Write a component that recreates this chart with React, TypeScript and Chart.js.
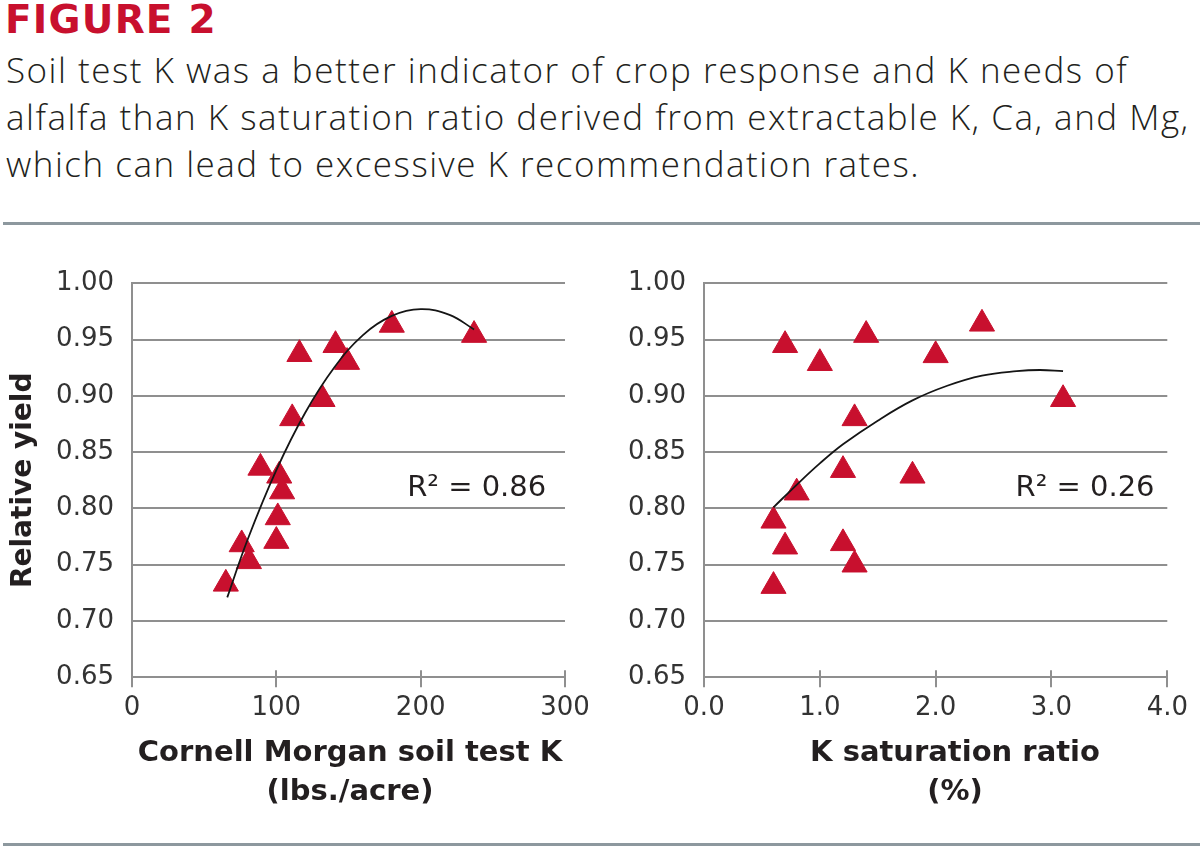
import React, { useEffect, useRef } from "react";
import { Chart, registerables } from "chart.js";

Chart.register(...registerables);

// ---- Data ----
const soilK = [180, 237, 141, 116, 149, 132, 111, 89, 102, 104, 101, 100, 76, 81, 65];
const soilYield = [0.963, 0.954, 0.945, 0.937, 0.930, 0.897, 0.880, 0.836, 0.829, 0.815, 0.792, 0.771, 0.768, 0.753, 0.733];
const soilTrendX = [66, 80, 100, 120, 140, 160, 180, 200, 220, 237];
const soilTrendY = [0.721, 0.772, 0.834, 0.885, 0.925, 0.954, 0.971, 0.977, 0.972, 0.959];

const satRatio = [2.4, 1.4, 0.7, 2.0, 1.0, 3.1, 1.3, 1.2, 1.8, 0.8, 0.6, 0.7, 1.2, 1.3, 0.6];
const satYield = [0.964, 0.954, 0.945, 0.936, 0.929, 0.897, 0.880, 0.834, 0.829, 0.814, 0.789, 0.766, 0.769, 0.750, 0.731];
const satTrendX = [0.6, 0.8, 1.0, 1.2, 1.5, 1.8, 2.1, 2.4, 2.7, 2.9, 3.1];
const satTrendY = [0.801, 0.821, 0.840, 0.857, 0.878, 0.896, 0.909, 0.918, 0.922, 0.923, 0.922];

const yMin = 0.65;
const yMax = 1.0;
const yStep = 0.05;
const soilAxis = { min: 0, max: 300, step: 100, decimals: 0 };
const satAxis = { min: 0, max: 4, step: 1, decimals: 1 };

const soilTitle = ["Cornell Morgan soil test K", "(lbs./acre)"];
const satTitle = ["K saturation ratio", "(%)"];
const yTitle = "Relative yield";
const soilR2 = "R\u00B2 = 0.86";
const satR2 = "R\u00B2 = 0.26";

const RED = "#c8102e";
const GRID = "#8f8f8f";
const TEXT = "#231f20";
const TICK_TEXT = "#333333";

const extrasPlugin = {
  id: "extras",
  afterDraw(chart: any, _args: any, opts: any) {
    const { ctx, chartArea, scales } = chart;
    const xs = scales.x;
    const ys = scales.y;
    ctx.save();
    // tick marks crossing the x axis
    ctx.strokeStyle = GRID;
    ctx.lineWidth = 2;
    xs.ticks.forEach((t: any) => {
      const px = Math.round(xs.getPixelForValue(t.value));
      ctx.beginPath();
      ctx.moveTo(px, chartArea.bottom - 7);
      ctx.lineTo(px, chartArea.bottom + 10);
      ctx.stroke();
    });
    // R² annotation
    ctx.font = "29px 'DejaVu Sans'";
    ctx.fillStyle = TEXT;
    ctx.textAlign = "right";
    ctx.textBaseline = "alphabetic";
    ctx.fillText(opts.text, xs.getPixelForValue(opts.x), ys.getPixelForValue(opts.y));
    // x axis title (two lines, centred on the canvas)
    ctx.font = "bold 29px 'DejaVu Sans'";
    ctx.textAlign = "center";
    const cx = chart.width / 2;
    opts.xTitle.forEach((line: string, i: number) => {
      ctx.fillText(line, cx, chartArea.bottom + 84 + i * 38.5);
    });
    ctx.restore();
  },
};

function makeConfig(p: any) {
  return {
    type: "scatter",
    data: {
      datasets: [
        {
          order: 0,
          data: p.tx.map((x: number, i: number) => ({ x, y: p.ty[i] })),
          showLine: true,
          pointRadius: 0,
          borderColor: "#151515",
          borderWidth: 1.8,
          tension: 0.4,
          fill: false,
        },
        {
          order: 1,
          data: p.xs.map((x: number, i: number) => ({ x, y: p.ys[i] })),
          pointStyle: "triangle",
          pointRadius: 14.5,
          backgroundColor: RED,
          borderColor: RED,
          borderWidth: 1,
        },
      ],
    },
    options: {
      animation: false,
      responsive: false,
      maintainAspectRatio: false,
      events: [],
      layout: { padding: p.padding },
      plugins: {
        legend: { display: false },
        tooltip: { enabled: false },
        title: { display: false },
        extras: { text: p.r2, x: p.r2x, y: p.r2y, xTitle: p.xTitle },
      },
      scales: {
        x: {
          type: "linear",
          min: p.axis.min,
          max: p.axis.max,
          afterFit: (s: any) => {
            s.height = 44;
            s.paddingLeft = 0;
            s.paddingRight = 0;
          },
          ticks: {
            stepSize: p.axis.step,
            padding: 15,
            color: TICK_TEXT,
            font: { family: "'DejaVu Sans'", size: 26 },
            callback: (v: any) => Number(v).toFixed(p.axis.decimals),
          },
          grid: { display: false, drawTicks: false },
          border: { display: true, color: GRID, width: 2 },
        },
        y: {
          type: "linear",
          min: yMin,
          max: yMax,
          afterFit: (s: any) => {
            s.width = p.yWidth;
            s.paddingTop = 0;
            s.paddingBottom = 0;
          },
          ticks: {
            stepSize: yStep,
            padding: 18,
            color: TICK_TEXT,
            font: { family: "'DejaVu Sans'", size: 26 },
            callback: (v: any) => Number(v).toFixed(2),
          },
          title: p.yTitle
            ? {
                display: true,
                text: p.yTitle,
                color: TEXT,
                font: { family: "'DejaVu Sans'", weight: "bold", size: 28 },
                padding: { top: 7, bottom: 0 },
              }
            : { display: false },
          grid: { display: true, color: GRID, lineWidth: 2, drawTicks: false },
          border: { display: true, color: GRID, width: 2 },
        },
      },
    },
    plugins: [extrasPlugin],
  };
}

function ChartCanvas(props: { config: any; style: React.CSSProperties; width: number; height: number }) {
  const ref = useRef<HTMLCanvasElement | null>(null);
  useEffect(() => {
    if (!ref.current) return;
    const chart = new Chart(ref.current, props.config);
    return () => chart.destroy();
  }, []);
  return <canvas ref={ref} width={props.width} height={props.height} style={{ position: "absolute", ...props.style }} />;
}

export default function App() {
  const leftConfig = makeConfig({
    xs: soilK,
    ys: soilYield,
    tx: soilTrendX,
    ty: soilTrendY,
    axis: soilAxis,
    xTitle: soilTitle,
    yTitle: yTitle,
    r2: soilR2,
    r2x: 287,
    r2y: 0.811,
    yWidth: 132,
    padding: { top: 43.3, right: 135, bottom: 118.7, left: 0 },
  });
  const rightConfig = makeConfig({
    xs: satRatio,
    ys: satYield,
    tx: satTrendX,
    ty: satTrendY,
    axis: satAxis,
    xTitle: satTitle,
    yTitle: null,
    r2: satR2,
    r2x: 3.89,
    r2y: 0.811,
    yWidth: 94,
    padding: { top: 43.3, right: 132.7, bottom: 118.7, left: 0 },
  });

  return (
    <div
      style={{
        position: "fixed",
        left: 0,
        top: 0,
        width: 1200,
        height: 848,
        overflow: "hidden",
        background: "#ffffff",
      }}
    >
      <div
        style={{
          position: "absolute",
          left: 5,
          top: 0,
          fontFamily: "'DejaVu Sans', sans-serif",
          fontWeight: 800,
          fontSize: 39,
          lineHeight: "39px",
          color: RED,
          letterSpacing: 1.2,
          whiteSpace: "nowrap",
        }}
      >
        FIGURE 2
      </div>
      <div
        style={{
          position: "absolute",
          left: 6,
          top: 46,
          fontFamily: "'Open Sans', sans-serif",
          fontWeight: 300,
          fontSize: 35,
          lineHeight: "47px",
          letterSpacing: 1.5,
          color: TEXT,
          whiteSpace: "nowrap",
        }}
      >
        <div>Soil test K was a better indicator of crop response and K needs of</div>
        <div>alfalfa than K saturation ratio derived from extractable K, Ca, and Mg,</div>
        <div>which can lead to excessive K recommendation rates.</div>
      </div>
      <div style={{ position: "absolute", left: 3, top: 222, width: 1197, height: 3, background: "#8d989e" }} />
      <div style={{ position: "absolute", left: 3, top: 843, width: 1197, height: 3, background: "#8d989e" }} />
      <ChartCanvas config={leftConfig} width={700} height={600} style={{ left: 0, top: 240 }} />
      <ChartCanvas config={rightConfig} width={690} height={600} style={{ left: 610, top: 240 }} />
    </div>
  );
}
